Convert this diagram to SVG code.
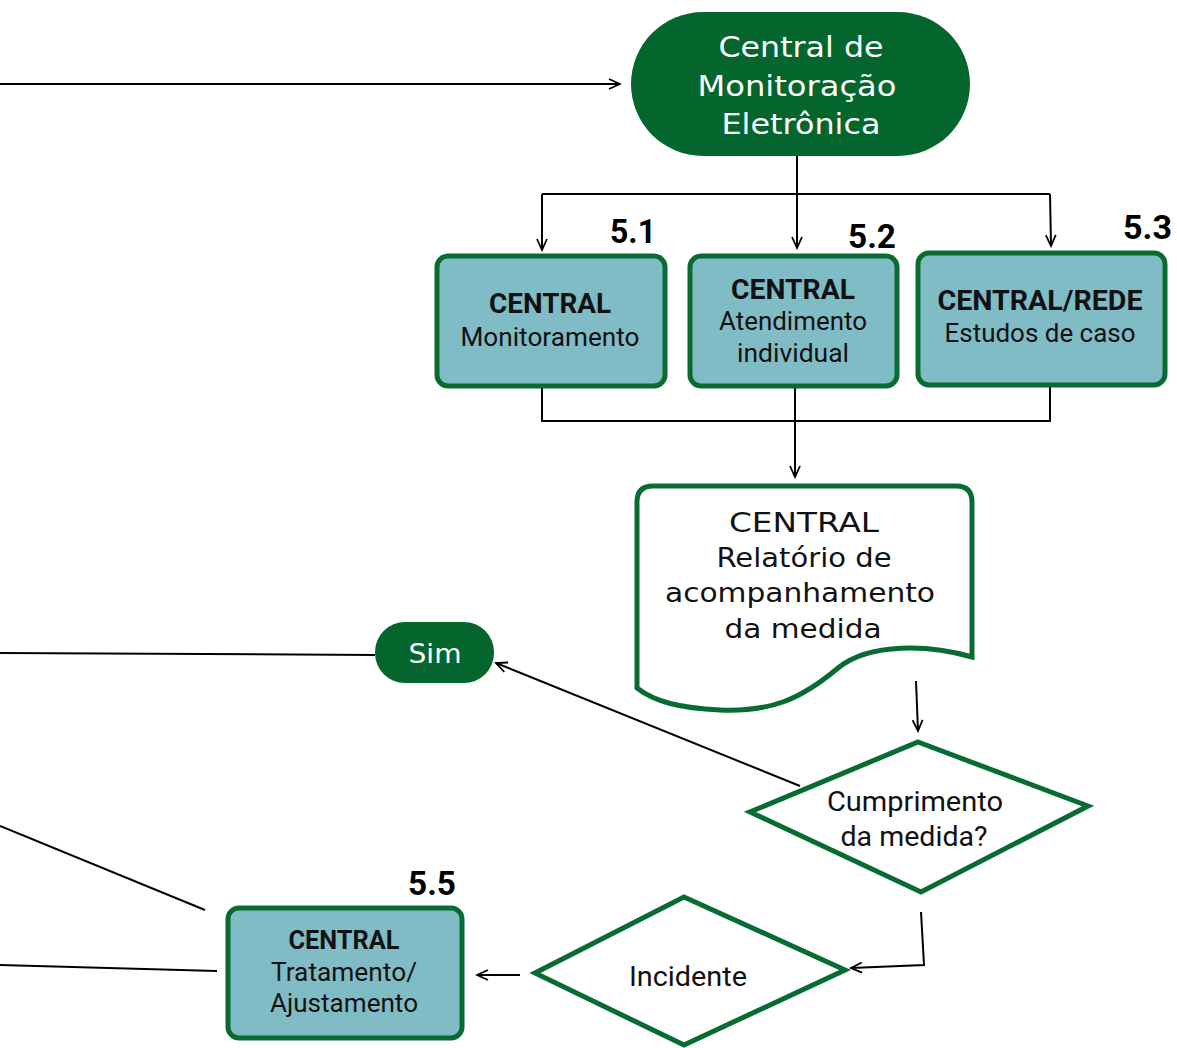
<svg xmlns="http://www.w3.org/2000/svg" width="1177" height="1048" viewBox="0 0 1177 1048">
<defs>
<style>
.term{fill:#04662C}
.box{fill:#80BCC6;stroke:#086B31;stroke-width:5}
.shape{fill:#fff;stroke:#086B31;stroke-width:5}
.con{fill:none;stroke:#000;stroke-width:2}
.mw{font-family:"DejaVu Sans","Open Sans",sans-serif;fill:#fff;text-anchor:middle}
.mb{font-family:"DejaVu Sans","Open Sans",sans-serif;fill:#111;text-anchor:middle}
.rb{font-family:Roboto,"Liberation Sans",sans-serif;font-weight:bold;fill:#111;text-anchor:middle}
.rn{font-family:Roboto,"Liberation Sans",sans-serif;fill:#111;text-anchor:middle}
.num{font-family:Roboto,"Liberation Sans",sans-serif;font-weight:bold;font-size:34px;fill:#000}
</style>
<marker id="arr" markerWidth="14" markerHeight="12" refX="12" refY="6" orient="auto" markerUnits="userSpaceOnUse">
<path d="M1,1 L12,6 L1,11" fill="none" stroke="#000" stroke-width="1.8"/>
</marker>
</defs>

<g id="connectors">
<line class="con" x1="0" y1="84" x2="620" y2="84" marker-end="url(#arr)"/>
<path class="con" d="M797,156 V194"/>
<path class="con" d="M542,194 H1050"/>
<path class="con" d="M542,194 V250" marker-end="url(#arr)"/>
<path class="con" d="M797,194 V248" marker-end="url(#arr)"/>
<path class="con" d="M1050,194 L1051,246" marker-end="url(#arr)"/>
<path class="con" d="M542,386 V421 H1050 V386"/>
<path class="con" d="M795,386 V477" marker-end="url(#arr)"/>
<path class="con" d="M916,681 L918,731" marker-end="url(#arr)"/>
<path class="con" d="M800,786 L496,663" marker-end="url(#arr)"/>
<path class="con" d="M0,653 L375,655"/>
<path class="con" d="M0,826 L205,910"/>
<path class="con" d="M0,965 L217,971"/>
<path class="con" d="M921,912 L924,965 L851,968" marker-end="url(#arr)"/>
<path class="con" d="M520,975 L477,975" marker-end="url(#arr)"/>
</g>

<g id="central-monitoracao">
<rect class="term" x="631" y="12" width="339" height="144" rx="72"/>
<text class="mw" font-size="28" x="801" y="57" textLength="165" lengthAdjust="spacingAndGlyphs">Central de</text>
<text class="mw" font-size="28" x="797" y="96" textLength="199" lengthAdjust="spacingAndGlyphs">Monitoração</text>
<text class="mw" font-size="28" x="801" y="134" textLength="159" lengthAdjust="spacingAndGlyphs">Eletrônica</text>
</g>

<g id="n51">
<rect class="box" x="437" y="256" width="228" height="130" rx="11"/>
<text class="rb" font-size="27" x="550" y="313" textLength="122" lengthAdjust="spacingAndGlyphs">CENTRAL</text>
<text class="rn" font-size="26" x="550" y="346" textLength="179" lengthAdjust="spacingAndGlyphs">Monitoramento</text>
<text class="num" x="610" y="243" textLength="46" lengthAdjust="spacingAndGlyphs">5.1</text>
</g>

<g id="n52">
<rect class="box" x="690" y="256" width="207" height="130" rx="11"/>
<text class="rb" font-size="27" x="793" y="299" textLength="124" lengthAdjust="spacingAndGlyphs">CENTRAL</text>
<text class="rn" font-size="26" x="793" y="330" textLength="148" lengthAdjust="spacingAndGlyphs">Atendimento</text>
<text class="rn" font-size="26" x="793" y="362" textLength="112" lengthAdjust="spacingAndGlyphs">individual</text>
<text class="num" x="848" y="248" textLength="48" lengthAdjust="spacingAndGlyphs">5.2</text>
</g>

<g id="n53">
<rect class="box" x="918" y="253" width="247" height="132" rx="11"/>
<text class="rb" font-size="27" x="1040" y="310" textLength="205" lengthAdjust="spacingAndGlyphs">CENTRAL/REDE</text>
<text class="rn" font-size="26" x="1040" y="342" textLength="191" lengthAdjust="spacingAndGlyphs">Estudos de caso</text>
<text class="num" x="1123" y="239" textLength="49" lengthAdjust="spacingAndGlyphs">5.3</text>
</g>

<g id="relatorio">
<path class="shape" d="M637,502 Q637,486 653,486 H956 Q972,486 972,502 V657 C930,645 870,642 838,668 C800,700 770,712 720,710 C680,708 655,702 637,688 Z"/>
<text class="mb" font-size="27" x="804" y="532" textLength="150" lengthAdjust="spacingAndGlyphs">CENTRAL</text>
<text class="mb" font-size="26" x="804" y="567" textLength="175" lengthAdjust="spacingAndGlyphs">Relatório de</text>
<text class="mb" font-size="26" x="800" y="602" textLength="270" lengthAdjust="spacingAndGlyphs">acompanhamento</text>
<text class="mb" font-size="26" x="803" y="638" textLength="157" lengthAdjust="spacingAndGlyphs">da medida</text>
</g>

<g id="cumprimento">
<polygon class="shape" points="918,742 1088,806 921,892 750,812"/>
<text class="rn" font-size="27" x="915" y="811" textLength="176" lengthAdjust="spacingAndGlyphs">Cumprimento</text>
<text class="rn" font-size="27" x="914" y="846" textLength="147" lengthAdjust="spacingAndGlyphs">da medida?</text>
</g>

<g id="sim">
<rect class="term" x="375" y="622" width="119" height="61" rx="30"/>
<text class="mw" font-size="26" x="435" y="663" textLength="53" lengthAdjust="spacingAndGlyphs">Sim</text>
</g>

<g id="n55">
<rect class="box" x="228" y="908" width="234" height="130" rx="11"/>
<text class="rb" font-size="25" x="344" y="949" textLength="111" lengthAdjust="spacingAndGlyphs">CENTRAL</text>
<text class="rn" font-size="26" x="344" y="981" textLength="146" lengthAdjust="spacingAndGlyphs">Tratamento/</text>
<text class="rn" font-size="26" x="344" y="1012" textLength="148" lengthAdjust="spacingAndGlyphs">Ajustamento</text>
<text class="num" x="408" y="895" textLength="48" lengthAdjust="spacingAndGlyphs">5.5</text>
</g>

<g id="incidente">
<polygon class="shape" points="684,897 845,970 684,1045 535,973"/>
<text class="rn" font-size="27" x="688" y="986" textLength="118" lengthAdjust="spacingAndGlyphs">Incidente</text>
</g>
</svg>
